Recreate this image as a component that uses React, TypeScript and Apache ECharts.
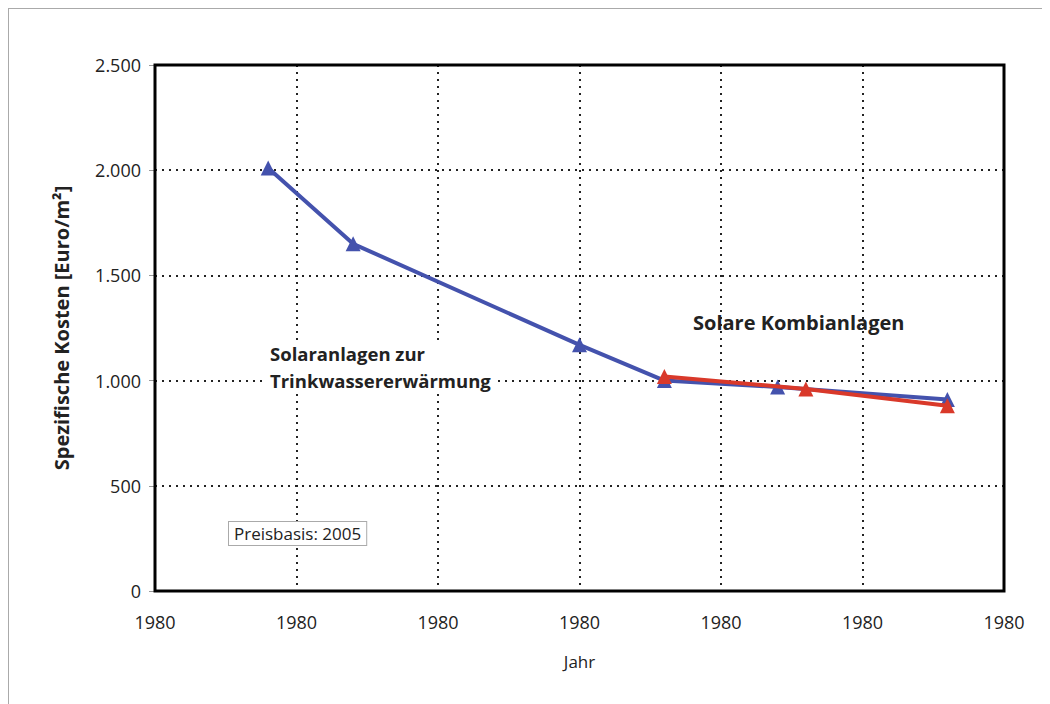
import React, { useEffect, useRef } from "react";
import * as echarts from "echarts";

const blueYears = [1984, 1987, 1995, 1998, 2002, 2008];
const blueCosts = [2010, 1650, 1170, 1000, 970, 910];
const redYears = [1998, 2003, 2008];
const redCosts = [1020, 960, 880];
const xTickLabels = ["1980", "1980", "1980", "1980", "1980", "1980", "1980"];
const yTickLabels = ["0", "500", "1.000", "1.500", "2.000", "2.500"];

const FONT = "'Open Sans', 'Noto Sans', sans-serif";

export default function App() {
  const ref = useRef<HTMLDivElement>(null);
  useEffect(() => {
    if (!ref.current) return;
    const chart = echarts.init(ref.current, null, { renderer: "svg" });
    const blue = blueYears.map((y, i) => [y, blueCosts[i]]);
    const red = redYears.map((y, i) => [y, redCosts[i]]);
    chart.setOption({
      animation: false,
      backgroundColor: "#fff",
      textStyle: { fontFamily: FONT },
      grid: {
        left: 146,
        top: 56,
        right: 46,
        bottom: 113,
        show: true,
        borderColor: "#000",
        borderWidth: 3,
        z: 3,
      },
      xAxis: {
        type: "value",
        min: 1980,
        max: 2010,
        interval: 5,
        name: "Jahr",
        nameLocation: "middle",
        nameGap: 62,
        nameTextStyle: { fontSize: 17, color: "#222", fontFamily: FONT },
        axisLine: { show: false },
        axisTick: { show: false },
        axisLabel: {
          margin: 22,
          fontSize: 18,
          color: "#222",
          fontFamily: FONT,
          formatter: (v: number) => xTickLabels[Math.round((v - 1980) / 5)] ?? "",
        },
        splitLine: {
          show: true,
          lineStyle: { color: "#222", width: 2, type: [2, 5] },
        },
      },
      yAxis: {
        type: "value",
        min: 0,
        max: 2500,
        interval: 500,
        name: "Spezifische Kosten [Euro/m²]",
        nameLocation: "middle",
        nameGap: 84,
        nameTextStyle: { fontSize: 20, fontWeight: "bold", color: "#222", fontFamily: FONT },
        axisLine: { show: false },
        axisTick: { show: true, length: 6, lineStyle: { color: "#999", width: 1 } },
        axisLabel: {
          margin: 14,
          fontSize: 18,
          color: "#222",
          fontFamily: FONT,
          formatter: (v: number) => yTickLabels[Math.round(v / 500)] ?? "",
        },
        splitLine: {
          show: true,
          lineStyle: { color: "#222", width: 2, type: [2, 5] },
        },
      },
      series: [
        {
          type: "line",
          data: blue,
          symbol: "triangle",
          symbolSize: 15,
          lineStyle: { color: "#4452ad", width: 4 },
          itemStyle: { color: "#4452ad" },
          z: 4,
        },
        {
          type: "line",
          data: red,
          symbol: "triangle",
          symbolSize: 15,
          lineStyle: { color: "#d9392a", width: 4 },
          itemStyle: { color: "#d9392a" },
          z: 5,
        },
      ],
      graphic: [
        {
          type: "text",
          left: 255,
          top: 331,
          z: 10,
          style: {
            text: "Solaranlagen zur\nTrinkwassererwärmung",
            font: `bold 18.5px ${FONT}`,
            fill: "#222",
            lineHeight: 27,
            backgroundColor: "#fff",
            padding: [0, 6],
          },
        },
        {
          type: "text",
          left: 684,
          top: 303,
          z: 10,
          style: {
            text: "Solare Kombianlagen",
            font: `bold 20px ${FONT}`,
            fill: "#222",
          },
        },
        {
          type: "text",
          left: 219,
          top: 512,
          z: 10,
          style: {
            text: "Preisbasis: 2005",
            font: `17px ${FONT}`,
            fill: "#222",
            backgroundColor: "#fff",
            borderColor: "#aaa",
            borderWidth: 1,
            padding: [3, 5, 3, 5],
          },
        },
      ],
    });
    return () => chart.dispose();
  }, []);
  return (
    <div
      ref={ref}
      style={{
        width: 1042,
        height: 696,
        borderTop: "1px solid #aaa",
        borderLeft: "1px solid #aaa",
        boxSizing: "border-box",
      }}
    />
  );
}
